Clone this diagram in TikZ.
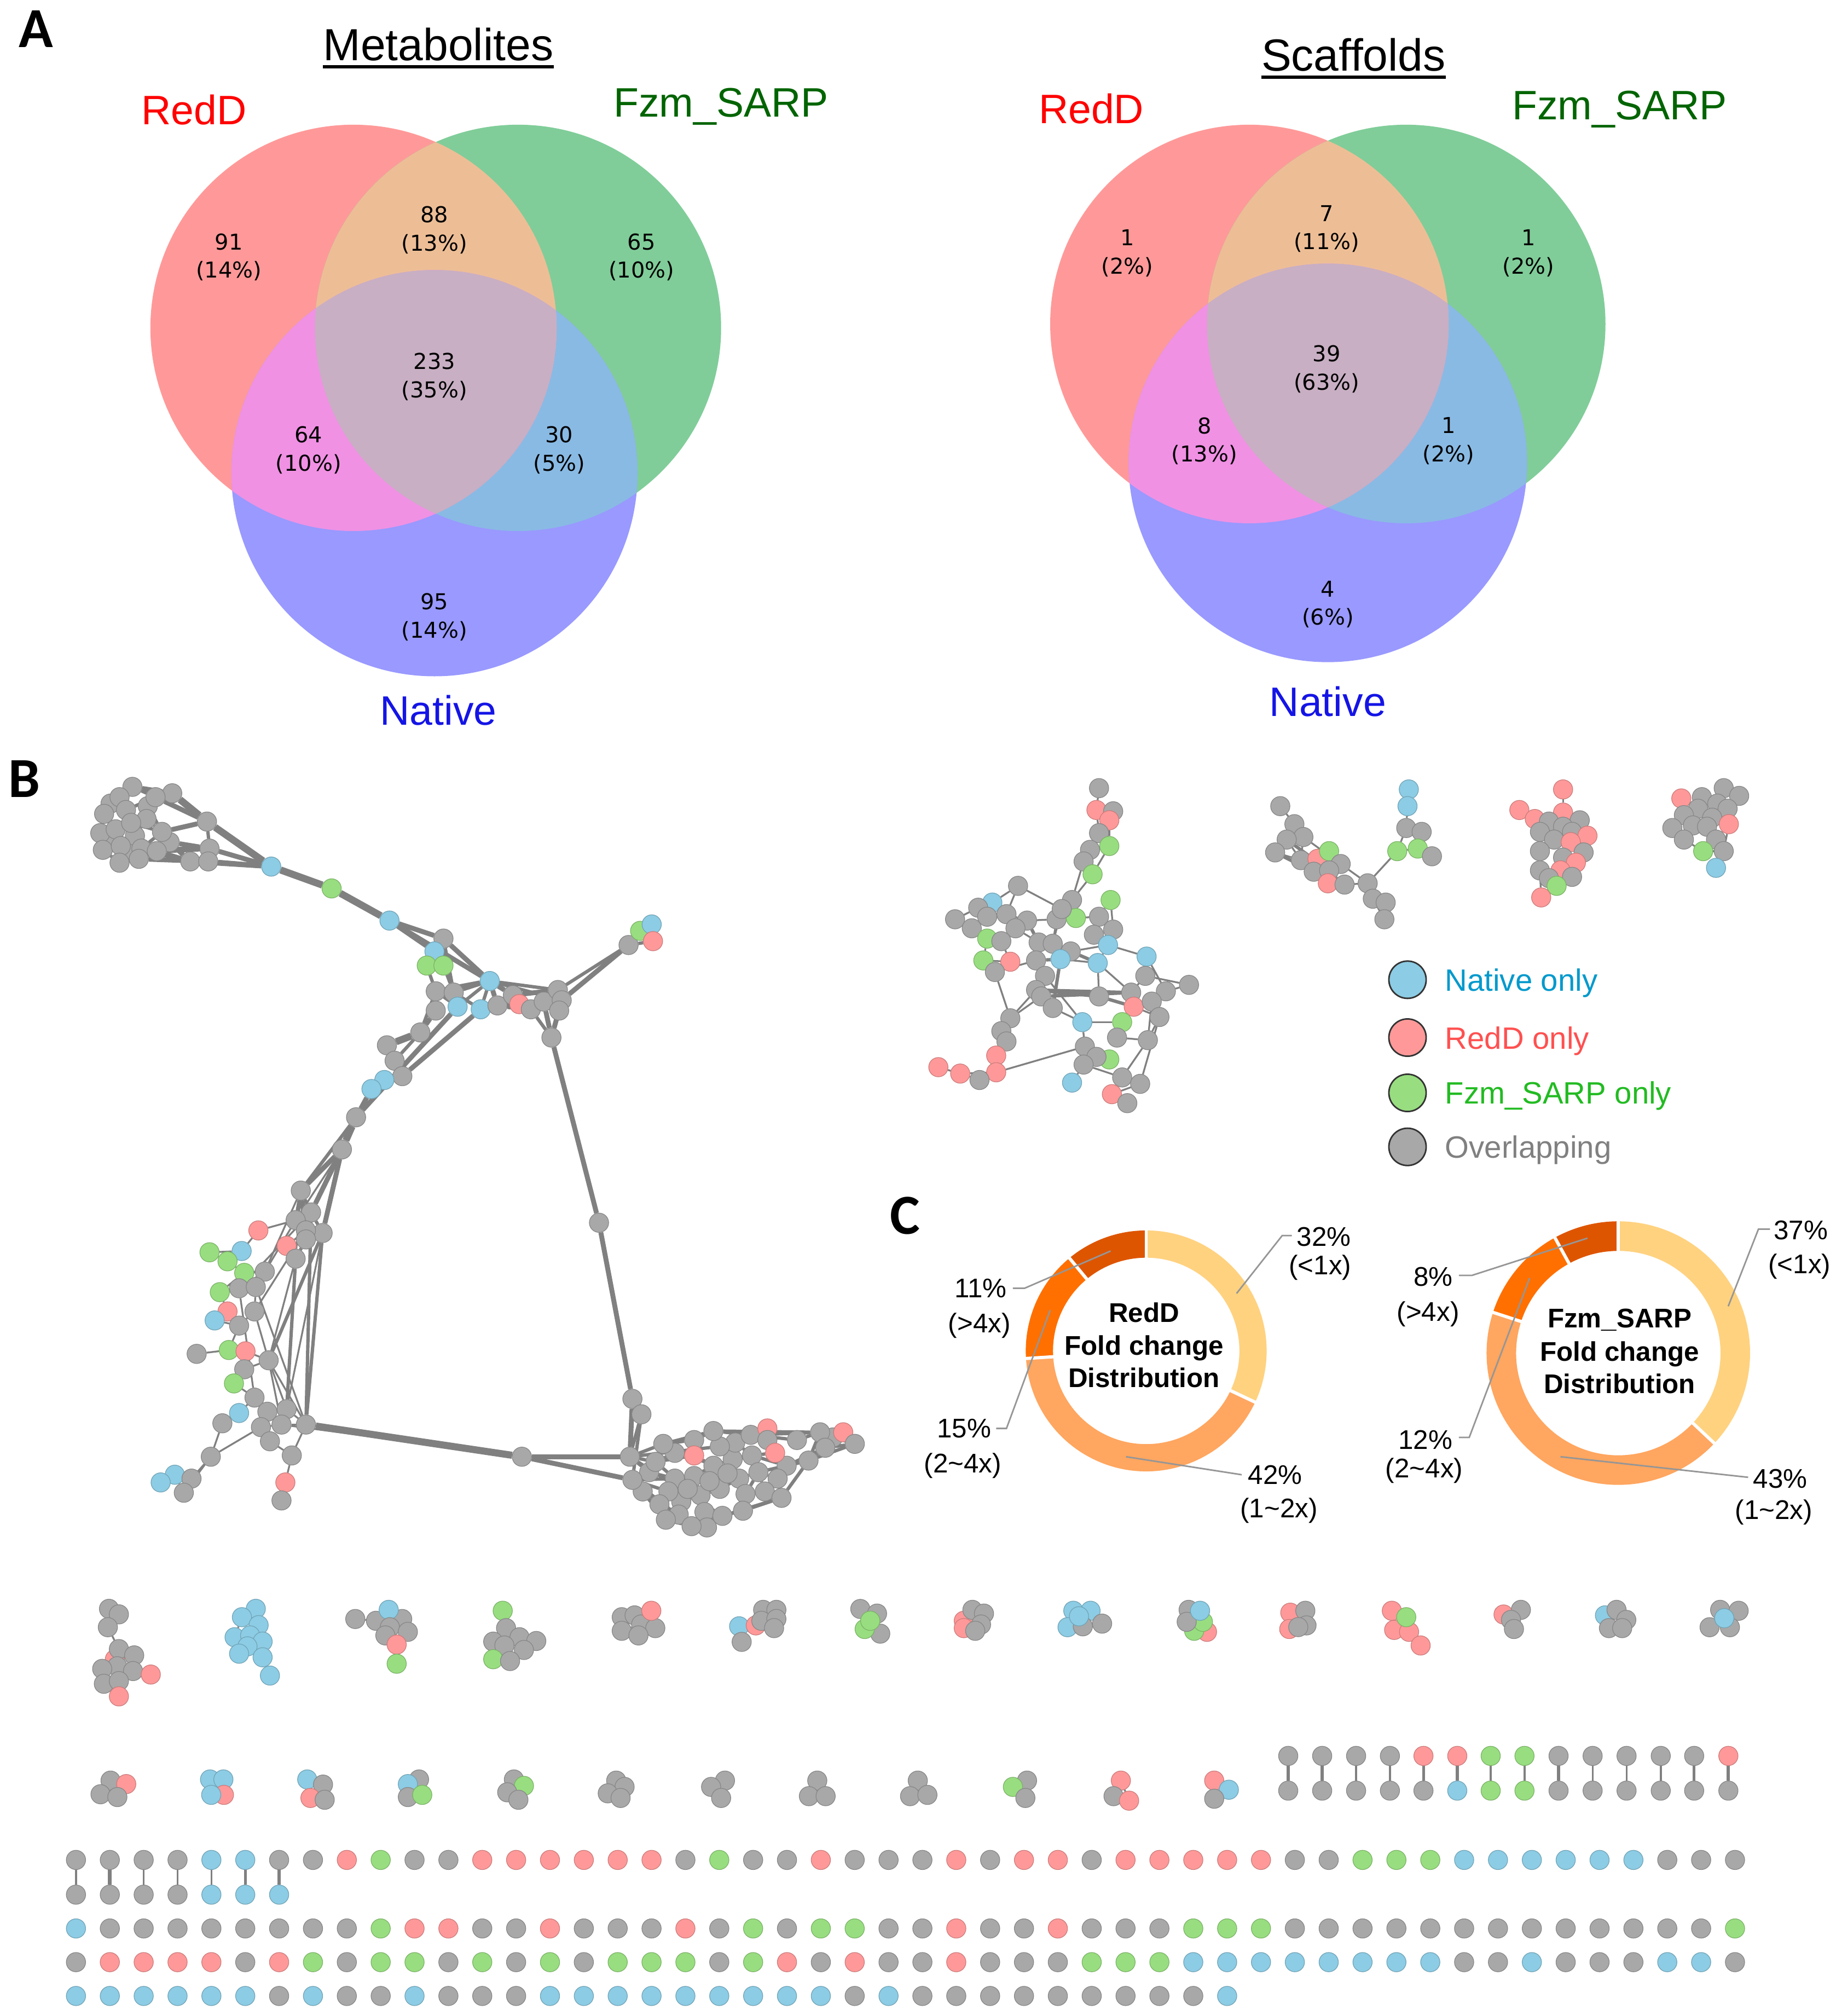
\documentclass[tikz,border=0pt]{standalone}
\usepackage{fontspec}
\setmainfont{Liberation Sans}
\newfontfamily\numfont{DejaVu Sans}
\newfontfamily\panelfont{Carlito}
\pgfdeclarelayer{bgwhite}
\pgfdeclarelayer{edgelayer}
\pgfsetlayers{bgwhite,edgelayer,main}
\definecolor{vR}{RGB}{255,153,153}
\definecolor{vG}{RGB}{128,205,153}
\definecolor{vB}{RGB}{153,153,255}
\definecolor{vRG}{RGB}{237,190,150}
\definecolor{vRB}{RGB}{240,145,228}
\definecolor{vGB}{RGB}{137,186,228}
\definecolor{vRGB}{RGB}{200,175,195}
\definecolor{ng}{RGB}{168,168,168}
\definecolor{nb}{RGB}{140,204,228}
\definecolor{nr}{RGB}{255,153,153}
\definecolor{nc}{RGB}{152,222,128}
\definecolor{egray}{RGB}{128,128,128}
\definecolor{leadc}{RGB}{150,150,150}
\definecolor{dA}{RGB}{255,210,128}
\definecolor{dB}{RGB}{255,166,96}
\definecolor{dC}{RGB}{255,112,0}
\definecolor{dD}{RGB}{222,85,0}
\definecolor{tRed}{RGB}{255,0,0}
\definecolor{tGreen}{RGB}{0,100,0}
\definecolor{tBlue}{RGB}{20,20,230}
\definecolor{lBlue}{RGB}{0,153,204}
\definecolor{lRed}{RGB}{255,80,80}
\definecolor{lGreen}{RGB}{34,187,34}
\definecolor{lGray}{RGB}{128,128,128}
\tikzset{
  nd/.style={circle,inner sep=0pt,minimum size=15pt,fill=n#1,draw=n#1!80!black,line width=0.5pt},
  e1/.style={draw=egray,line width=1.4pt},
  e2/.style={draw=egray,line width=2.6pt},
  e3/.style={draw=egray,line width=3.8pt},
  e4/.style={draw=egray,line width=5.5pt},
  panel/.style={font=\panelfont\bfseries\fontsize{44}{44}\selectfont,anchor=base,inner sep=0pt},
  vtitle/.style={font=\fontsize{35}{40}\selectfont,anchor=base,inner sep=0pt},
  vlab/.style={font=\fontsize{32}{36}\selectfont,anchor=base,inner sep=0pt},
  vnum/.style={font=\numfont\fontsize{17}{22}\selectfont,align=center,inner sep=0pt},
  ctext/.style={font=\bfseries\fontsize{21}{25}\selectfont,anchor=base,inner sep=0pt},
  plab/.style={font=\fontsize{21}{24}\selectfont,inner sep=0pt},
  leader/.style={draw=leadc,line width=1.2pt},
  legc/.style={circle,inner sep=0pt,minimum size=29pt,line width=1.2pt,draw=black!80},
  legt/.style={font=\fontsize{24}{28}\selectfont,anchor=base west,inner sep=0pt},
  dsep/.style={draw=white,line width=2.5pt},
}
\begin{document}
\begin{tikzpicture}[x=1pt,y=-1pt]
\useasboundingbox (0,0) rectangle (1428,1568);
\begin{pgfonlayer}{bgwhite}\fill[white] (0,0) rectangle (1428,1568);\end{pgfonlayer}

% ---------- panel letters
\node[panel] (labA) at (28,37) {A};
\node[panel] (labB) at (19,620) {B};
\node[panel] (labC) at (704,960) {C};

% ---------- Venn 1
\coordinate (mR) at (275,255);
\coordinate (mG) at (403,255);
\coordinate (mB) at (338,368);
\fill[vR] (mR) circle[radius=158];
\fill[vG] (mG) circle[radius=158];
\fill[vB] (mB) circle[radius=158];
\begin{scope}\clip (mG) circle[radius=158]; \fill[vGB] (mB) circle[radius=158];\end{scope}
\begin{scope}\clip (mR) circle[radius=158]; \fill[vRG] (mG) circle[radius=158]; \fill[vRB] (mB) circle[radius=158];
\clip (mG) circle[radius=158]; \fill[vRGB] (mB) circle[radius=158];\end{scope}
\node[vtitle] (tMet) at (341,47) {Metabolites};
\draw[line width=2.5pt] ([yshift=-5pt]tMet.base west) -- ([yshift=-5pt]tMet.base east);
\node[vlab,text=tRed] (mRl) at (151,97) {RedD};
\node[vlab,text=tGreen] (mGl) at (561,91) {Fzm\_SARP};
\node[vlab,text=tBlue] (mBl) at (341,564) {Native};
\node[vnum] (m1) at (178,200) {91\\(14\%)};
\node[vnum] (m2) at (338,179) {88\\(13\%)};
\node[vnum] (m3) at (499,200) {65\\(10\%)};
\node[vnum] (m4) at (338,293) {233\\(35\%)};
\node[vnum] (m5) at (240,350) {64\\(10\%)};
\node[vnum] (m6) at (435,350) {30\\(5\%)};
\node[vnum] (m7) at (338,480) {95\\(14\%)};

% ---------- Venn 2
\coordinate (sR) at (972,252);
\coordinate (sG) at (1094,252);
\coordinate (sB) at (1033,360);
\fill[vR] (sR) circle[radius=155];
\fill[vG] (sG) circle[radius=155];
\fill[vB] (sB) circle[radius=155];
\begin{scope}\clip (sG) circle[radius=155]; \fill[vGB] (sB) circle[radius=155];\end{scope}
\begin{scope}\clip (sR) circle[radius=155]; \fill[vRG] (sG) circle[radius=155]; \fill[vRB] (sB) circle[radius=155];
\clip (sG) circle[radius=155]; \fill[vRGB] (sB) circle[radius=155];\end{scope}
\node[vtitle] (tSca) at (1053,55) {Scaffolds};
\draw[line width=2.5pt] ([yshift=-5pt]tSca.base west) -- ([yshift=-5pt]tSca.base east);
\node[vlab,text=tRed] (sRl) at (849,96) {RedD};
\node[vlab,text=tGreen] (sGl) at (1260,93) {Fzm\_SARP};
\node[vlab,text=tBlue] (sBl) at (1033,557) {Native};
\node[vnum] (s1) at (877,197) {1\\(2\%)};
\node[vnum] (s2) at (1032,178) {7\\(11\%)};
\node[vnum] (s3) at (1189,197) {1\\(2\%)};
\node[vnum] (s4) at (1032,287) {39\\(63\%)};
\node[vnum] (s5) at (937,343) {8\\(13\%)};
\node[vnum] (s6) at (1127,343) {1\\(2\%)};
\node[vnum] (s7) at (1033,470) {4\\(6\%)};

% ---------- Big network nodes
\foreach \n/\x/\y/\s in {h67/525/1150/g, h68/540/1148/g, h69/555/1140/g, h70/570/1135/g, h71/585/1132/g, h72/575/1150/g, h73/560/1158/g, h74/545/1163/g, h75/530/1168/g, h76/548/1176/g, h77/520/1160/g, h78/590/1145/g, h79/612/1140/g, h80/528/1178/g, h81/572/1122/g, h82/560/1125/g, h83/605/1150/g, h84/620/1120/g, h85/648/1118/g,
  h86/505/1145/g, h87/513/1170/g, h88/535/1158/g, h89/552/1152/g, h90/566/1146/g, h91/580/1162/g, h92/595/1160/g, h93/540/1120/g, h94/525/1130/g, h95/500/1160/g, h96/550/1188/g, h97/578/1175/g,
  t23/86/625/g, t24/115/627/g, t25/100/662/g, t26/132/655/g, t27/88/652/g}
  \node[nd=\s] (\n) at (\x,\y) {};
\foreach \n/\x/\y/\s in {t1/103/612/g, t2/134/617/g, t3/93/620/g, t4/121/620/g, t5/81/633/g, t6/114/637/g, t7/98/630/g, t8/78/648/g, t9/90/645/g, t10/105/650/g, t11/80/661/g, t12/94/658/g, t13/110/660/g, t14/122/662/g, t15/93/671/g, t16/108/668/g, t17/161/639/g, t18/163/660/g, t19/148/670/g, t20/162/670/g, t21/126/647/g, t22/102/640/g,
  b1/211/674/b, g1/258/691/c, b2/303/716/b, h1/345/730/g, b3/338/740/b, c1/332/751/c, c2/345/751/c, b4/381/763/b, h2/339/771/g, h3/353/772/g, b5/356/783/b, b6/374/785/b, h4/339/786/g, h5/387/782/g, h6/399/774/g, r1/404/781/r, h7/413/785/g, h8/423/779/g, h9/434/770/g, h10/437/778/g, h11/435/786/g, h12/429/807/g,
  h13/489/735/g, c3/498/724/c, b7/507/719/b, r2/508/732/r, h14/327/803/g, h15/301/813/g, h16/307/825/g, h17/313/837/g, b8/299/840/b, b9/289/847/b, h18/277/869/g, h19/266/894/g,
  h20/234/926/g, h21/242/943/g, h22/230/949/g, h23/251/959/g, h24/238/957/g, h25/238/964/g, r3/201/957/r, r4/223/969/r, h26/230/979/g, c4/163/974/c, b10/188/973/b, c5/177/981/c, c6/190/990/c, h27/206/989/g, c7/171/1005/c, h28/186/1002/g, h29/199/1001/g, r5/177/1020/r, b11/167/1027/b, h30/186/1031/g, h31/198/1020/g, h32/153/1053/g, c8/178/1050/c, r6/191/1051/r, h33/209/1058/g, h34/190/1065/g, c9/182/1076/c, h35/198/1087/g, b12/186/1099/b, h36/208/1098/g, h37/223/1096/g, h38/173/1107/g, h39/203/1110/g, h40/219/1108/g, h41/238/1108/g, h42/210/1121/g, h43/164/1133/g, h44/227/1132/g, b13/136/1147/b, b14/125/1153/b, h45/149/1150/g, h46/143/1161/g, r7/222/1153/r, h47/219/1167/g,
  h48/466/951/g, h49/492/1088/g, h50/499/1100/g, h51/406/1133/g, h52/490/1133/g, h53/492/1151/g, h54/516/1123/g, h55/510/1137/g, r8/540/1132/r, h56/555/1113/g, h57/584/1116/g, r9/597/1111/r, h58/597/1120/g, r10/603/1130/r, h59/638/1114/g, r11/656/1114/r, h60/665/1123/g, h61/642/1126/g, h62/629/1136/g, h63/608/1165/g, h64/562/1179/g, h65/538/1187/g, h66/518/1182/g}
  \node[nd=\s] (\n) at (\x,\y) {};

% ---------- Upper right network
\foreach \n/\x/\y/\s in {u1/855/613/g, u2/853/630/r, u3/866/631/g, u4/863/638/r, u5/855/648/g, u6/863/658/c, u7/848/661/g, u8/843/670/g, u9/850/680/c, u10/792/689/g, u11/834/700/g, u12/864/700/c, u13/772/702/b, u14/761/706/g, u15/743/715/g, u16/768/713/g, u17/783/711/g, u18/799/716/g, u19/822/715/g, u20/837/714/c, u21/826/707/g, u22/855/713/g, u23/756/722/g, u24/790/722/g, u25/866/723/g, u26/851/727/g, u27/768/730/c, u28/779/732/g, u29/808/733/g, u30/819/734/g, u31/862/735/b, u32/833/740/g, u33/892/744/b, u34/765/747/c, u35/786/748/r, u36/825/746/b, u37/854/749/b, u38/806/747/g, u39/774/756/g, u40/813/759/g, u41/891/759/g, u42/925/766/g, u43/907/771/g, u44/880/772/g, u45/855/775/g, u46/806/770/g, u47/810/775/g, u48/882/783/r, u49/896/779/g, u50/819/784/g, u51/902/791/g, u52/786/792/g, u53/842/795/b, u54/873/795/c, u55/893/809/g, u56/869/807/g, u57/779/802/g, u58/783/810/g, u59/844/814/g, u60/775/821/r, u61/863/824/c, u62/853/822/g, u63/843/828/g, u64/730/830/r, u65/747/835/r, u66/775/834/r, u67/762/840/g, u68/834/842/b, u69/873/838/g, u70/887/843/g, u71/865/851/r, u72/877/858/g}
  \node[nd=\s] (\n) at (\x,\y) {};

% ---------- small networks top right
\foreach \n/\x/\y/\s in {v1/996/627/g, v2/1007/641/g, v3/1014/651/g, v4/1001/653/g, v5/992/663/g, v6/1012/669/g, v7/1025/668/r, v8/1034/662/c, v9/1043/672/g, v10/1022/678/g, v11/1034/677/g, v12/1033/687/r, v13/1046/688/g, v14/1064/687/g, v15/1068/699/g, v16/1078/702/g, v17/1077/715/g, v18/1096/614/b, v19/1095/627/b, v20/1094/644/g, v21/1106/647/g, v22/1087/662/c, v23/1103/660/c, v24/1114/666/g,
  w1/1216/614/r, w2/1182/630/r, w4/1216/632/r, w3/1194/637/r, w5/1205/639/g, w6/1229/638/g, w7/1216/643/g, w8/1198/647/g, w9/1223/647/g, w10/1235/650/r, w11/1209/653/g, w12/1222/655/r, w13/1198/662/g, w14/1232/663/g, w15/1216/667/g, w16/1226/671/r, w17/1214/677/r, w18/1198/677/g, w19/1223/682/g, w20/1205/683/g, w21/1211/689/c, w22/1199/698/r,
  z1/1341/613/g, z2/1308/621/r, z3/1324/620/g, z4/1353/619/g, z5/1336/625/g, z6/1321/629/g, z7/1344/629/g, z8/1310/634/g, z9/1332/636/g, z10/1345/641/r, z11/1301/644/g, z12/1317/642/g, z13/1328/643/g, z14/1310/653/g, z15/1335/653/g, z16/1325/662/c, z17/1341/662/g, z18/1335/675/b}
  \node[nd=\s] (\n) at (\x,\y) {};

% ---------- row 1 and row 2 small clusters
\foreach \n/\x/\y/\s in {ca1/84.8/1251.3/g, ca2/92.5/1255.6/g, ca3/83.9/1265.6/g, ca4/89.4/1290.5/r, ca5/92.5/1282.6/g, ca6/104.4/1287.5/g, ca7/91.2/1296/g, ca8/79.5/1298/g, ca9/103.5/1299.7/g, ca10/117.3/1302.4/r, ca11/80.8/1309.6/g, ca12/92.5/1307.5/g, ca13/92.5/1319.4/r,
  cb1/199/1251.3/b, cb2/188.2/1257.8/b, cb3/201.2/1264/b, cb4/182.5/1273.4/b, cb5/194.6/1272/b, cb6/204.3/1276.8/b, cb7/192.5/1280.5/b, cb8/186/1286.2/b, cb9/204.3/1289/b, cb10/210/1303.2/b,
  cc1/276.4/1259.2/g, cc2/292.5/1260.6/g, cc3/312.9/1259.2/g, cc4/302.4/1252.1/b, cc5/303.3/1265.6/g, cc6/317.3/1269.2/g, cc7/299.8/1272/g, cc8/308.6/1279.1/r, cc9/308.6/1294/c,
  cd1/391.1/1252.8/c, cd2/393.7/1266.3/g, cd3/404.2/1273.4/g, cd4/417.2/1276.3/g, cd5/383.7/1276.8/g, cd6/392.4/1279.8/g, cd7/407.6/1283.3/g, cd8/383.7/1290.5/c, cd9/396.8/1291.9/g,
  ce1/483.7/1257.8/g, ce2/493.7/1256.4/g, ce4/498.8/1263.5/g, ce5/509.8/1266.3/g, ce6/483.7/1268.4/g, ce7/496.7/1272/g, ce3/506.7/1252.8/r,
  cf1/575/1264.9/b, cf2/588/1264.2/r, cf3/593.7/1252.1/g, cf4/604/1252.1/g, cf5/592.3/1260.6/g, cf6/604/1259.2/g, cf7/602.2/1266.3/g, cf8/577/1277/g,
  cg1/669.3/1251.4/g, cg2/682.3/1255/g, cg5/684.8/1270.6/g, cg4/672.7/1267/c, cg3/677/1260.6/c,
  ch1/749.8/1260.6/r, ch2/749.8/1266.3/r, ch3/756.5/1252.1/g, ch4/765.5/1255/g, ch5/763.2/1263.5/g, ch6/758.7/1268.4/g,
  ci1/835/1252.8/b, ci2/848.4/1252.8/b, ci4/830.5/1265.6/b, ci5/842.4/1264.9/g, ci6/857.4/1262.8/g, ci3/839.4/1257.1/b,
  cj6/939/1269.2/r, cj5/929/1268.4/c, cj4/935.8/1261.4/c, cj1/924.7/1252.1/g, cj3/923.2/1261.4/g, cj2/933.6/1252.8/b,
  ck1/1003.8/1254.3/r, ck2/1003/1267/r, ck3/1015.5/1252.8/g, ck4/1016.4/1264.2/g, ck5/1010/1265.5/g,
  cl1/1082.8/1252.8/r, cl3/1084.6/1267.7/r, cl4/1096.2/1269.2/r, cl5/1105.2/1279.8/r, cl2/1094/1257.8/c,
  cm1/1169.7/1255.7/r, cm2/1183.2/1252.1/g, cm3/1175.5/1259.9/g, cm4/1177.8/1267/g,
  cn1/1248.6/1256.4/b, cn2/1257.6/1252.1/g, cn3/1265.2/1259.9/g, cn4/1251.7/1266.3/g, cn5/1262/1266.3/g,
  co1/1338.2/1252.1/g, co2/1352.6/1252.8/g, co4/1330/1265.6/g, co5/1345.8/1265.6/g, co3/1341.4/1258.6/b,
  da1/86/1384.9/g, da2/98.2/1387.6/r, da3/78.2/1395.5/g, da4/91.3/1397.7/g,
  db1/163.4/1384/b, db2/173.8/1384/b, db3/174.2/1396/r, db4/164.3/1396/b,
  dc1/239/1384/b, dc2/251.3/1388/g, dc3/241.5/1398.4/r, dc4/252.6/1399.8/g,
  dd1/326/1384/g, dd2/317.3/1387.6/b, dd3/317.3/1397.7/g, dd4/328.5/1396/c,
  de1/399.8/1384/g, de2/407.6/1389/c, de3/394.6/1394/g, de4/403.3/1399.8/g,
  df1/479.4/1384.9/g, df2/485.9/1389.8/g, df3/472.8/1394.8/g, df4/482.8/1398.4/g,
  dg1/564/1384.9/g, dg2/553.2/1389.8/g, dg3/561/1398.4/g,
  dh1/635.8/1384.9/g, dh2/629.3/1397/g, dh3/642.3/1397/g,
  di1/714/1384.9/g, di2/708/1397/g, di3/721.5/1396/g,
  dj1/799/1384.9/g, dj2/788/1389.8/c, dj3/797.7/1398.4/g,
  dk1/872/1384.9/r, dk2/866.3/1397/g, dk3/878.4/1400.5/r,
  dl1/944.6/1384.9/r, dl2/956/1392/b, dl3/944.6/1399/g}
  \node[nd=\s] (\n) at (\x,\y) {};

% ---------- row 2 pairs
\foreach \x/\t/\b [count=\i] in {1002.2/g/g, 1028.6/g/g, 1055/g/g, 1081.3/g/g, 1107.4/r/g, 1133.7/r/b, 1159.7/c/c, 1186/c/c, 1212.5/g/g, 1239/g/g, 1265.4/g/g, 1292/g/g, 1318/g/g, 1344.6/r/g}
  {\node[nd=\t] (pt\i) at (\x,1365.7) {}; \node[nd=\b] (pb\i) at (\x,1392.7) {};}

% ---------- bottom rows
\foreach \c [count=\i from 0] in {g,g,g,g,b,b,g,g,r,c,g,g,r,r,r,r,r,r,g,c,g,g,r,g,g,g,r,g,r,r,g,r,r,r,r,r,g,g,c,c,c,b,b,b,b,b,b,g,g,g}
  \node[nd=\c] (ra\i) at ({59.1+26.34*\i},1446.6) {};
\foreach \c [count=\i from 0] in {g,g,g,g,b,b,b}
  \node[nd=\c] (rp\i) at ({59.1+26.34*\i},1473.6) {};
\foreach \c [count=\i from 0] in {b,g,g,g,g,g,g,g,g,c,r,r,g,g,r,g,g,g,r,g,c,g,c,c,g,g,r,g,g,r,g,g,g,c,c,c,g,g,g,g,g,g,g,g,g,g,g,g,g,c}
  \node[nd=\c] (rb\i) at ({59.1+26.34*\i},1499.9) {};
\foreach \c [count=\i from 0] in {g,r,r,r,r,g,r,c,g,c,c,g,c,g,c,g,c,c,c,g,c,r,g,r,g,g,r,g,g,g,c,c,c,b,b,b,b,b,b,b,b,g,g,b,g,g,g,b,b,g}
  \node[nd=\c] (rc\i) at ({59.1+26.34*\i},1526.1) {};
\foreach \c [count=\i from 0] in {b,b,b,b,b,b,g,b,g,g,b,g,g,g,b,b,b,b,b,b,b,b,b,g,b,g,g,g,g,g,g,g,g,g,b}
  \node[nd=\c] (rd\i) at ({59.1+26.34*\i},1552.4) {};

% ---------- edges
\begin{pgfonlayer}{edgelayer}
\foreach \a/\b in {b1/g1, g1/b2, h41/h51, t2/t17, t17/b1, h14/h15, h15/h17, h18/h19}
  \draw[e4] (\a) -- (\b);
\foreach \a/\b in {t18/b1, t19/b1, t20/b1, t14/t18, t14/t19, t16/t20, b2/h1, b2/b4, h1/b4, b2/b3, b4/h5, b4/h6, h6/h9, h9/h10, b4/h2, h2/h4, h4/h14, h16/h17, h17/b8, b8/b9, b9/h18, h19/h20, h10/h13, h13/c3, h12/h48, h48/h49, h49/h52, h51/h52, h51/h53, h5/h7, h8/h12, h10/h12, b6/h17, b5/h18, h19/h21, h19/h23, h20/h24,
  t1/t2, t2/t4, t4/t17, t21/t17, t26/t18, t26/t19, t13/t19, t25/t15, t23/t5, t24/t6}
  \draw[e3] (\a) -- (\b);
\foreach \a/\b in {t1/t3, t1/t4, t3/t7, t3/t5, t5/t8, t8/t11, t11/t15, t15/t16, t16/t13, t13/t14, t4/t6, t6/t10, t10/t12, t12/t9, t9/t5, t7/t22, t22/t21, t21/t13, t6/t21, t9/t22, t12/t15, t17/t18, t13/t18, t19/t20, t10/t13, t8/t9, t7/t4, t23/t3, t23/t7, t24/t4, t24/t21, t25/t12, t25/t16, t27/t8, t27/t11, t26/t14, t26/t21, t22/t10,
  b3/c1, b3/c2, c1/h2, c2/h3, h1/h3, b4/h3, b4/b5, b4/b6, h2/b5, h3/b6, b6/h5, h5/r1, h6/r1, r1/h7, h7/h8, h8/h9, h10/h11, h11/h12, h7/h12, b4/h9, b4/h10, h13/r2, c3/b7, b7/r2, h9/h13, h2/h14, h14/h16, h18/h20,
  h20/h22, h20/h21, h21/h23, h21/h24, h24/h25, h22/h25, h25/h26, h23/h33, h26/h37, h21/h41, h23/h41,
  h49/h50, h50/h52, h50/h53, h52/h54, h52/h55, h53/h55, h54/h56, h55/r8, h56/h57, h57/r9, r9/h58, h58/r10, h57/h59, h59/r11, r11/h60, h60/h61, h61/h62, h62/h63, h63/h64, h64/h65, h65/h66, h66/h53, h53/h67, h67/h68, h68/h69, h69/h70, h70/h71, h71/r10, h72/h73, h73/h74, h74/h75, h75/h77, h77/h53, h76/h64, h76/h74, h78/h62, h79/h62, h79/h83, h83/h63, h81/h57, h82/h56, h84/h59, h85/h60, h72/h78, h70/h72, h80/h65, h80/h75, h55/h67, h61/h79, h52/h82, h54/h69, h52/h64, h53/h65, h59/h62, h56/h59, r8/h69, h68/h74, h71/h79, h57/h84, h82/h81, h81/h71, h78/h83, h60/h62,
  h86/h52, h86/h67, h87/h95, h87/h66, h88/h74, h88/h67, h89/h73, h89/h69, h90/h72, h90/h70, h91/h97, h91/h78, h92/h83, h92/h78, h93/h54, h93/h56, h94/h55, h94/h54, h95/h53, h96/h64, h96/h65, h97/h64, h97/h63, h91/h72, h92/h79, h88/h75,
  u18/u29, u29/u30, u30/u32, u40/u46, u46/u45, u45/u48, u44/u48, u38/u36, u32/u37, u47/u44, u29/u38, u36/u50, u46/u44, v4/v11, v5/v10}
  \draw[e2] (\a) -- (\b);
\foreach \a/\b in {h22/r3, h24/r4, r4/h26, h20/h27, h21/h28, h27/h28, r3/b10, b10/c5, c4/c5, c5/c6, c6/h28, h28/h29, h27/h29, c6/c7, h29/h31, c7/r5, r5/b11, b11/h30, h30/h31, h31/h33, h30/c8, h32/c8, c8/r6, r6/h33, h33/h34, h34/c9, c9/h35, h35/b12, h35/h36, h36/h37, h33/h37, h37/h41, h36/h40, h40/h41, h39/h40, h39/h42, h42/h44, h41/h44, b12/h38, h38/h43, h43/h45, h45/b13, h45/b14, h43/h46, h39/h43, h44/r7, r7/h47, h26/h33, h29/h41, h33/h41, h40/h51, h22/h29, h23/h37, h24/h31, h28/h35, c4/b10, h19/h22, h20/h26, b13/h46, h33/h40,
  u1/u2, u2/u5, u3/u4, u4/u5, u5/u7, u4/u6, u7/u8, u6/u9, u8/u9, u8/u11, u9/u11, u11/u21, u11/u20, u10/u13, u10/u21, u13/u14, u14/u15, u15/u23, u14/u16, u16/u17, u17/u18, u18/u19, u19/u20, u20/u22, u12/u22, u22/u25, u22/u26, u23/u27, u27/u28, u24/u28, u24/u29, u26/u31, u31/u32, u31/u37, u33/u43, u31/u33, u27/u34, u34/u35, u28/u35, u35/u39, u39/u38, u36/u37, u37/u44, u38/u40, u47/u50, u44/u41, u41/u42, u42/u43, u43/u49, u49/u48, u45/u37, u48/u51, u51/u55, u49/u55, u50/u53, u53/u54, u54/u48, u53/u59, u59/u62, u54/u56, u56/u55, u52/u57, u52/u46, u57/u58, u58/u60, u60/u66, u66/u65, u65/u64, u65/u67, u66/u67, u66/u59, u59/u61, u61/u62, u62/u63, u63/u68, u63/u69, u69/u70, u70/u71, u71/u72, u69/u55, u70/u51, u52/u47, u39/u52, u19/u30, u21/u30, u24/u18, u40/u53, u12/u25, u10/u17,
  v1/v2, v2/v3, v2/v4, v4/v5, v3/v6, v5/v6, v6/v7, v7/v8, v7/v10, v6/v10, v8/v9, v9/v11, v10/v11, v11/v12, v12/v13, v11/v13, v13/v14, v14/v15, v14/v16, v15/v17, v16/v17, v9/v14, v14/v22, v18/v19, v19/v20, v20/v21, v20/v22, v21/v23, v22/v23, v23/v24, v4/v6, v3/v9,
  w1/w4, w2/w3, w3/w5, w4/w5, w4/w6, w5/w8, w6/w9, w7/w11, w8/w13, w9/w10, w9/w12, w11/w12, w11/w13, w12/w14, w13/w18, w14/w16, w15/w16, w15/w17, w16/w19, w17/w20, w18/w20, w20/w21, w21/w22, w19/w21, w18/w22, w3/w8, w7/w9, w10/w14,
  z1/z5, z1/z4, z2/z6, z3/z5, z3/z6, z4/z7, z5/z7, z6/z8, z6/z9, z7/z9, z7/z10, z8/z11, z8/z12, z9/z13, z10/z15, z11/z14, z12/z14, z13/z15, z14/z16, z15/z17, z16/z17, z17/z18, z2/z8, z12/z13, z10/z17,
  ca1/ca2, ca2/ca3, ca3/ca5, ca4/ca5, ca5/ca6, ca5/ca7, ca7/ca12, ca12/ca13, ca6/ca9, ca9/ca10, ca8/ca11, ca7/ca8,
  cb1/cb2, cb2/cb3, cb2/cb4, cb3/cb5, cb4/cb5, cb5/cb6, cb6/cb7, cb7/cb8, cb6/cb9, cb9/cb10,
  cc1/cc2, cc2/cc4, cc4/cc3, cc2/cc5, cc5/cc6, cc5/cc7, cc7/cc8, cc6/cc8, cc8/cc9,
  cd1/cd2, cd2/cd3, cd2/cd5, cd3/cd4, cd3/cd7, cd5/cd6, cd6/cd7, cd6/cd8, cd6/cd9,
  ce1/ce2, ce2/ce3, ce2/ce4, ce4/ce5, ce4/ce6, ce6/ce7, ce5/ce7,
  cf1/cf8, cf1/cf2, cf2/cf5, cf3/cf5, cf4/cf6, cf5/cf7, cf6/cf7,
  cg1/cg3, cg2/cg3, cg3/cg4, cg3/cg5,
  ch3/ch4, ch3/ch1, ch4/ch5, ch5/ch6, ch2/ch6,
  ci1/ci3, ci2/ci3, ci3/ci4, ci3/ci5, ci2/ci6,
  cj1/cj3, cj2/cj4, cj3/cj5, cj4/cj5, cj4/cj6,
  ck1/ck3, ck3/ck4, ck4/ck5, ck2/ck5,
  cl1/cl2, cl2/cl3, cl2/cl4, cl4/cl5,
  cm1/cm3, cm2/cm3, cm3/cm4,
  cn1/cn2, cn2/cn3, cn3/cn5, cn4/cn5,
  co1/co3, co2/co3, co3/co4, co3/co5,
  da1/da2, da1/da3, da1/da4, db1/db4, db2/db3, db1/db2, dc1/dc3, dc1/dc2, dc2/dc4, dd1/dd2, dd2/dd3, dd1/dd4, de1/de3, de1/de2, de3/de4, df1/df2, df1/df3, df3/df4, dg1/dg2, dg1/dg3, dh1/dh2, dh1/dh3, di1/di2, di1/di3, dj1/dj2, dj1/dj3, dk1/dk2, dk1/dk3, dl1/dl2, dl1/dl3}
  \draw[e1] (\a) -- (\b);
\foreach \w [count=\i] in {2.4,2.4,1.8,1.8,2.2,2.2,1.3,1.8,2.4,1.1,1.1,1.8,2.2,2.4}
  \draw[draw=egray,line width=\w pt] (pt\i) -- (pb\i);
\foreach \w [count=\i from 0] in {1.6,3,1.6,1.6,1.3,2.2,2.4}
  \draw[draw=egray,line width=\w pt] (ra\i) -- (rp\i);
\end{pgfonlayer}

% ---------- legend
\node[legc,fill=nb] (lg1) at (1095,762) {};
\node[legc,fill=nr] (lg2) at (1095,807) {};
\node[legc,fill=nc] (lg3) at (1095,850) {};
\node[legc,fill=ng] (lg4) at (1095,892) {};
\node[legt,text=lBlue] (lt1) at (1124,770.7) {Native only};
\node[legt,text=lRed] (lt2) at (1124,816) {RedD only};
\node[legt,text=lGreen] (lt3) at (1124,858.3) {Fzm\_SARP only};
\node[legt,text=lGray] (lt4) at (1124,900.7) {Overlapping};

% ---------- donut 1
\coordinate (d1) at (891.7,1050.7);
\begin{scope}[shift={(d1)}]
\fill[dA] (-90:93.7) arc[start angle=-90,end angle=25.2,radius=93.7] -- (25.2:72.5) arc[start angle=25.2,end angle=-90,radius=72.5] -- cycle;
\fill[dB] (25.2:93.7) arc[start angle=25.2,end angle=176.4,radius=93.7] -- (176.4:72.5) arc[start angle=176.4,end angle=25.2,radius=72.5] -- cycle;
\fill[dC] (176.4:93.7) arc[start angle=176.4,end angle=230.4,radius=93.7] -- (230.4:72.5) arc[start angle=230.4,end angle=176.4,radius=72.5] -- cycle;
\fill[dD] (230.4:93.7) arc[start angle=230.4,end angle=270,radius=93.7] -- (270:72.5) arc[start angle=270,end angle=230.4,radius=72.5] -- cycle;
\foreach \a in {-90,25.2,176.4,230.4} \draw[dsep] (\a:70) -- (\a:96);
\end{scope}
\node[ctext] (d1t1) at (890,1028.5) {RedD};
\node[ctext] (d1t2) at (890,1054) {Fold change};
\node[ctext] (d1t3) at (890,1079) {Distribution};
\node[plab] (p32) at (1030,962) {32\%};
\node[plab] (p32b) at (1027,986) {(<1x)};
\node[plab] (p11) at (763,1002) {11\%};
\node[plab] (p11b) at (762,1031) {(>4x)};
\node[plab] (p15) at (750,1111) {15\%};
\node[plab] (p15b) at (749,1140) {(2\textasciitilde4x)};
\node[plab] (p42) at (992,1147) {42\%};
\node[plab] (p42b) at (995,1175) {(1\textasciitilde2x)};
\coordinate (q1a) at (962,1006); \coordinate (q1b) at (997.5,961); \coordinate (q1c) at (1005,961);
\coordinate (q2a) at (864,973); \coordinate (q2b) at (797,1002); \coordinate (q2c) at (788,1002);
\coordinate (q3a) at (817,1019); \coordinate (q3b) at (783,1111); \coordinate (q3c) at (775,1111);
\coordinate (q4a) at (876,1133); \coordinate (q4b) at (966,1147);
\draw[leader] (q1a) -- (q1b) -- (q1c);
\draw[leader] (q2a) -- (q2b) -- (q2c);
\draw[leader] (q3a) -- (q3b) -- (q3c);
\draw[leader] (q4a) -- (q4b);

% ---------- donut 2
\coordinate (d2) at (1259,1052.4);
\begin{scope}[shift={(d2)}]
\fill[dA] (-90:102.5) arc[start angle=-90,end angle=43.2,radius=102.5] -- (43.2:79.5) arc[start angle=43.2,end angle=-90,radius=79.5] -- cycle;
\fill[dB] (43.2:102.5) arc[start angle=43.2,end angle=198,radius=102.5] -- (198:79.5) arc[start angle=198,end angle=43.2,radius=79.5] -- cycle;
\fill[dC] (198:102.5) arc[start angle=198,end angle=241.2,radius=102.5] -- (241.2:79.5) arc[start angle=241.2,end angle=198,radius=79.5] -- cycle;
\fill[dD] (241.2:102.5) arc[start angle=241.2,end angle=270,radius=102.5] -- (270:79.5) arc[start angle=270,end angle=241.2,radius=79.5] -- cycle;
\foreach \a in {-90,43.2,198,241.2} \draw[dsep] (\a:77) -- (\a:105);
\end{scope}
\node[ctext] (d2t1) at (1260,1032.5) {Fzm\_SARP};
\node[ctext] (d2t2) at (1260,1058.5) {Fold change};
\node[ctext] (d2t3) at (1260,1083.5) {Distribution};
\node[plab] (p37) at (1401,957) {37\%};
\node[plab] (p37b) at (1400,985) {(<1x)};
\node[plab] (p8) at (1115,993) {8\%};
\node[plab] (p8b) at (1111,1022) {(>4x)};
\node[plab] (p12) at (1109,1120) {12\%};
\node[plab] (p12b) at (1108,1144) {(2\textasciitilde4x)};
\node[plab] (p43) at (1385,1150) {43\%};
\node[plab] (p43b) at (1380,1176) {(1\textasciitilde2x)};
\coordinate (k1a) at (1344.5,1016); \coordinate (k1b) at (1368,956); \coordinate (k1c) at (1377,956);
\coordinate (k2a) at (1235,963); \coordinate (k2b) at (1145,992); \coordinate (k2c) at (1135,992);
\coordinate (k3a) at (1190,994); \coordinate (k3b) at (1143,1118); \coordinate (k3c) at (1135,1118);
\coordinate (k4a) at (1214,1133); \coordinate (k4b) at (1360,1149);
\draw[leader] (k1a) -- (k1b) -- (k1c);
\draw[leader] (k2a) -- (k2b) -- (k2c);
\draw[leader] (k3a) -- (k3b) -- (k3c);
\draw[leader] (k4a) -- (k4b);
\end{tikzpicture}
\end{document}
